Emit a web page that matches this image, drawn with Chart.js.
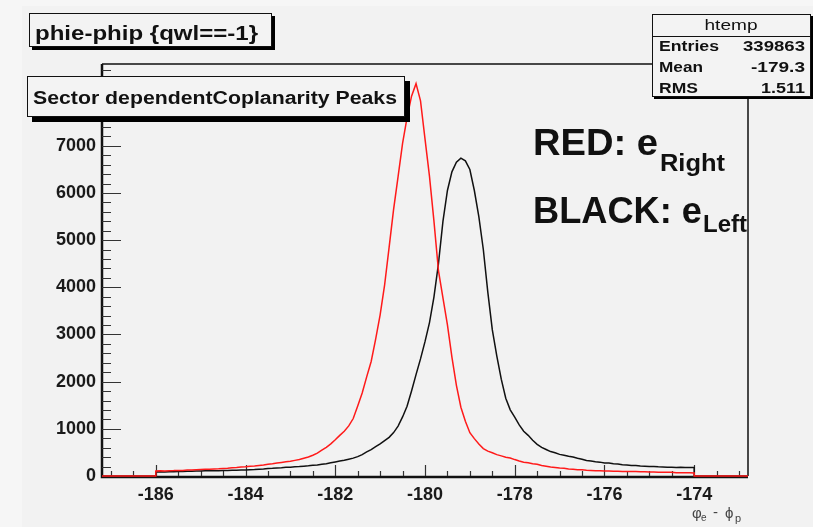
<!DOCTYPE html>
<html>
<head>
<meta charset="utf-8">
<script src="https://cdn.jsdelivr.net/npm/chart.js@4.4.1/dist/chart.umd.min.js"></script>
<style>
    html, body { margin: 0; padding: 0; background: #f2f2f2; }
    #wrap { width: 813px; height: 527px; position: relative; }
</style>
</head>
<body>
<div id="wrap"><canvas id="htempChart"></canvas></div>
<script>
// histogram bin centres (phi_e - phi_p, degrees)
const phiBins = [
    -186.0, -185.9, -185.8, -185.7, -185.6, -185.5, -185.4, -185.3, -185.2, -185.1,
    -185.0, -184.9, -184.8, -184.7, -184.6, -184.5, -184.4, -184.3, -184.2, -184.1,
    -184.0, -183.9, -183.8, -183.7, -183.6, -183.5, -183.4, -183.3, -183.2, -183.1,
    -183.0, -182.9, -182.8, -182.7, -182.6, -182.5, -182.4, -182.3, -182.2, -182.1,
    -182.0, -181.9, -181.8, -181.7, -181.6, -181.5, -181.4, -181.3, -181.2, -181.1,
    -181.0, -180.9, -180.8, -180.7, -180.6, -180.5, -180.4, -180.3, -180.2, -180.1,
    -180.0, -179.9, -179.8, -179.7, -179.6, -179.5, -179.4, -179.3, -179.2, -179.1,
    -179.0, -178.9, -178.8, -178.7, -178.6, -178.5, -178.4, -178.3, -178.2, -178.1,
    -178.0, -177.9, -177.8, -177.7, -177.6, -177.5, -177.4, -177.3, -177.2, -177.1,
    -177.0, -176.9, -176.8, -176.7, -176.6, -176.5, -176.4, -176.3, -176.2, -176.1,
    -176.0, -175.9, -175.8, -175.7, -175.6, -175.5, -175.4, -175.3, -175.2, -175.1,
    -175.0, -174.9, -174.8, -174.7, -174.6, -174.5, -174.4, -174.3, -174.2, -174.1,
    -174.0
];

// RED: e right
const redCounts = [
    105, 109, 108, 113, 114, 119, 118, 125, 127, 133,
    136, 141, 144, 151, 154, 161, 165, 173, 179, 189,
    195, 206, 213, 225, 235, 249, 259, 275, 287, 301,
    312, 331, 349, 376, 404, 441, 484, 546, 609, 681,
    769, 861, 949, 1062, 1218, 1482, 1758, 2102, 2428, 2902,
    3418, 4052, 4848, 5652, 6348, 7052, 7598, 8052, 8318, 7952,
    7148, 6352, 5398, 4352, 3778, 3202, 2518, 1922, 1458, 1162,
    918, 792, 678, 582, 528, 492, 453, 427, 398, 382,
    348, 317, 293, 280, 260, 247, 223, 207, 193, 182,
    168, 162, 148, 141, 133, 130, 120, 119, 112, 111,
    105, 106, 101, 101, 97, 97, 94, 94, 90, 91,
    87, 86, 81, 81, 77, 77, 71, 71, 67, 67,
    64
];

// BLACK: e left
const blackCounts = [
    85, 88, 87, 91, 91, 95, 95, 99, 99, 104,
    105, 109, 109, 113, 112, 116, 116, 120, 121, 127,
    129, 135, 137, 145, 149, 158, 163, 171, 175, 183,
    187, 195, 199, 209, 215, 226, 234, 249, 261, 279,
    299, 319, 335, 357, 379, 411, 454, 511, 559, 621,
    679, 751, 819, 921, 1058, 1252, 1478, 1802, 2148, 2482,
    2848, 3252, 3798, 4502, 5398, 6052, 6448, 6652, 6738, 6682,
    6498, 6052, 5498, 4802, 3898, 3102, 2548, 2052, 1648, 1402,
    1248, 1082, 948, 862, 758, 672, 608, 562, 518, 492,
    458, 442, 418, 402, 378, 357, 328, 320, 303, 294,
    278, 274, 260, 254, 238, 232, 222, 220, 210, 208,
    199, 199, 194, 193, 187, 186, 182, 183, 179, 180,
    178
];

const xRange = [-187.2, -172.8];
const yRange = [0, 8734];
const xTickValues = [-186, -184, -182, -180, -178, -176, -174];
const yTickValues = [0, 1000, 2000, 3000, 4000, 5000, 6000, 7000, 8000];

const statsLabels = ["Entries", "Mean", "RMS"];
const statsValues = ["339863", "-179.3", "1.511"];

// empty bins outside the filled range sit on zero
function histPoints(counts) {
    const pts = [{ x: xRange[0], y: 0 }, { x: phiBins[0], y: 0 }];
    phiBins.forEach(function (b, i) { pts.push({ x: b, y: counts[i] }); });
    pts.push({ x: phiBins[phiBins.length - 1], y: 0 });
    pts.push({ x: xRange[1], y: 0 });
    return pts;
}

const FONT = "'Liberation Sans', Arial, Helvetica, sans-serif";

// draw text stretched to a given width (ROOT fonts render wider)
function fitText(ctx, text, x, y, width, size, bold, align) {
    ctx.save();
    ctx.font = (bold ? "bold " : "") + size + "px " + FONT;
    const w = ctx.measureText(text).width;
    const sx = width / w;
    ctx.textBaseline = "alphabetic";
    ctx.textAlign = "left";
    const left = align === "right" ? x - width : (align === "center" ? x - width / 2 : x);
    ctx.translate(left, y);
    ctx.scale(sx, 1);
    ctx.fillText(text, 0, 0);
    ctx.restore();
}

function rootBox(ctx, x1, y1, x2, y2, shadow) {
    ctx.fillStyle = "#000";
    ctx.fillRect(x1 + shadow, y1 + shadow, x2 - x1, y2 - y1);
    ctx.fillStyle = "#f3f3f3";
    ctx.fillRect(x1, y1, x2 - x1, y2 - y1);
    ctx.strokeStyle = "#111";
    ctx.lineWidth = 1;
    ctx.strokeRect(x1 + 0.5, y1 + 0.5, x2 - x1 - 1, y2 - y1 - 1);
}

const rootFrame = {
    id: "rootFrame",
    beforeDraw: function (chart) {
        const ctx = chart.ctx;
        ctx.save();
        ctx.fillStyle = "#f2f2f2";
        ctx.fillRect(0, 0, chart.width, chart.height);
        ctx.fillStyle = "#f6f6f6";
        ctx.fillRect(0, 0, 22, chart.height);
        ctx.fillRect(0, 0, chart.width, 6);
        ctx.restore();
    },
    beforeDatasetsDraw: function (chart) {
        const ctx = chart.ctx;
        const a = chart.chartArea;
        const xs = chart.scales.x, ys = chart.scales.y;
        ctx.save();
        // frame
        ctx.strokeStyle = "#111";
        ctx.lineWidth = 1.5;
        ctx.beginPath();
        ctx.moveTo(a.left, a.top); ctx.lineTo(a.right, a.top); ctx.lineTo(a.right, a.bottom);
        ctx.stroke();
        ctx.lineWidth = 2.5;
        ctx.beginPath();
        ctx.moveTo(a.left, a.top); ctx.lineTo(a.left, a.bottom + 1); ctx.lineTo(a.right, a.bottom + 1);
        ctx.stroke();
        // x ticks
        ctx.lineWidth = 1.2;
        ctx.strokeStyle = "#333";
        ctx.beginPath();
        for (let v = -187; v <= -173; v += 0.5) {
            const px = Math.round(xs.getPixelForValue(v)) + 0.5;
            const len = xTickValues.indexOf(v) >= 0 ? 11 : 5;
            ctx.moveTo(px, a.bottom); ctx.lineTo(px, a.bottom - len);
        }
        ctx.stroke();
        // y ticks
        ctx.beginPath();
        for (let v = 0; v <= 8600; v += 200) {
            const py = Math.round(ys.getPixelForValue(v)) + 0.5;
            const len = yTickValues.indexOf(v) >= 0 ? 19 : 9;
            ctx.moveTo(a.left, py); ctx.lineTo(a.left + len, py);
        }
        ctx.stroke();
        ctx.restore();
    },
    afterDraw: function (chart) {
        const ctx = chart.ctx;
        ctx.save();
        ctx.fillStyle = "#111";

        // title
        rootBox(ctx, 29, 13, 272, 47, 3);
        ctx.fillStyle = "#111";
        fitText(ctx, "phie-phip {qwl==-1}", 35, 40, 223, 21, true);

        // sector box
        rootBox(ctx, 27, 76, 405, 117, 5);
        ctx.fillStyle = "#111";
        fitText(ctx, "Sector dependentCoplanarity Peaks", 33, 104, 364, 18, true);

        // stats box
        rootBox(ctx, 652, 14, 811, 97, 2);
        ctx.strokeStyle = "#111";
        ctx.lineWidth = 1;
        ctx.beginPath(); ctx.moveTo(652, 36.5); ctx.lineTo(811, 36.5); ctx.stroke();
        ctx.fillStyle = "#111";
        fitText(ctx, "htemp", 731, 30, 53, 15, false, "center");
        const labelW = [60, 44, 39];
        const valueW = [62, 54, 44];
        const rowY = [51, 72, 93];
        statsLabels.forEach(function (lab, i) {
            fitText(ctx, lab, 659, rowY[i], labelW[i], 15, true);
            fitText(ctx, statsValues[i], 805, rowY[i], valueW[i], 15, true, "right");
        });

        // annotations
        fitText(ctx, "RED: e", 533, 155, 125, 36, true);
        fitText(ctx, "Right", 660, 171, 65, 24, true);
        fitText(ctx, "BLACK: e", 533, 223, 169, 36, true);
        fitText(ctx, "Left", 703, 232, 44, 24, true);

        // axis title
        ctx.fillStyle = "#444";
        ctx.font = "15px " + FONT;
        ctx.fillText("\u03C6", 692, 518);
        ctx.font = "10px " + FONT;
        ctx.fillText("e", 701, 521);
        ctx.font = "15px " + FONT;
        ctx.fillText("-", 713, 517);
        ctx.fillText("\u03D5", 725, 518);
        ctx.font = "11px " + FONT;
        ctx.fillText("p", 735, 522);
        ctx.restore();
    }
};

new Chart(document.getElementById("htempChart").getContext("2d"), {
    type: "line",
    data: {
        datasets: [
            {
                label: "e right",
                data: histPoints(redCounts),
                borderColor: "#ff1a1a",
                borderWidth: 1.5,
                tension: 0,
                pointRadius: 0,
                fill: false,
                clip: { left: 0, top: 0, right: 0, bottom: 3 }
            },
            {
                label: "e left",
                data: histPoints(blackCounts),
                borderColor: "#111111",
                borderWidth: 1.5,
                tension: 0,
                pointRadius: 0,
                fill: false,
                clip: { left: 0, top: 0, right: 0, bottom: 3 }
            }
        ]
    },
    options: {
        responsive: true,
        maintainAspectRatio: false,
        devicePixelRatio: 1,
        animation: false,
        layout: { padding: { top: 64, right: 65, bottom: 0, left: 0 } },
        scales: {
            x: {
                type: "linear",
                min: xRange[0],
                max: xRange[1],
                afterBuildTicks: function (s) { s.ticks = xTickValues.map(function (v) { return { value: v }; }); },
                afterFit: function (s) { s.height = 51; },
                grid: { display: false, drawTicks: false },
                border: { display: false },
                ticks: {
                    color: "#1a1a1a",
                    padding: 8,
                    maxRotation: 0,
                    autoSkip: false,
                    font: { family: FONT, size: 18, weight: "bold" },
                    callback: function (v) { return String(v); }
                }
            },
            y: {
                min: yRange[0],
                max: yRange[1],
                afterBuildTicks: function (s) { s.ticks = yTickValues.map(function (v) { return { value: v }; }); },
                afterFit: function (s) { s.width = 102; },
                grid: { display: false, drawTicks: false },
                border: { display: false },
                ticks: {
                    color: "#1a1a1a",
                    padding: 6,
                    font: { family: FONT, size: 18, weight: "bold" },
                    callback: function (v) { return String(v); }
                }
            }
        },
        plugins: {
            legend: { display: false },
            tooltip: { enabled: false }
        }
    },
    plugins: [rootFrame]
});
</script>
</body>
</html>
